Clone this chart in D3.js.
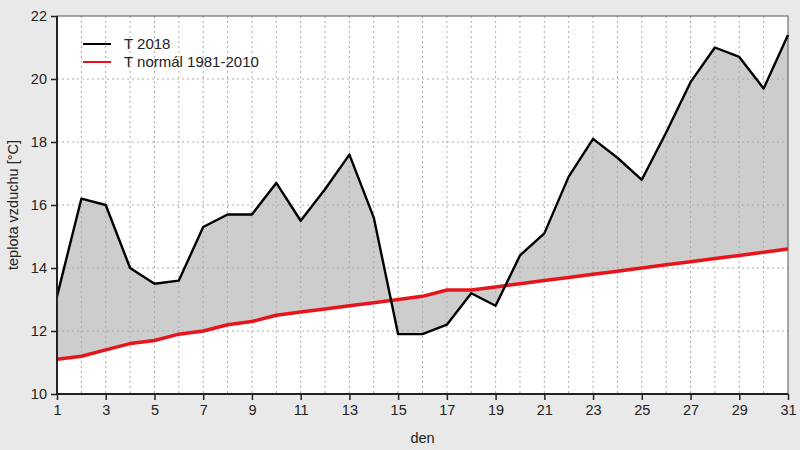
<!DOCTYPE html>
<html>
<head>
<meta charset="utf-8" />
<script src="https://d3js.org/d3.v7.min.js"></script>
<style>
  body { margin: 0; background: #e9e9e9; }
  svg { display: block; font-family: "Liberation Sans", Arial, sans-serif; }
  .grid line { stroke: #aaa; stroke-dasharray: 2,3; stroke-width: 1; }
  .axis text { font-size: 14.5px; fill: #222; }
  .axis path { display: none; }
  .axis line { stroke: #222; stroke-width: 1.5; }
</style>
</head>
<body>
<svg id="chart" width="800" height="450"></svg>
<script>
// den v mesici
var days = d3.range(1, 32);
var t2018 = [13.1, 16.2, 16.0, 14.0, 13.5, 13.6, 15.3, 15.7, 15.7, 16.7,
             15.5, 16.5, 17.6, 15.6, 11.9, 11.9, 12.2, 13.2, 12.8, 14.4,
             15.1, 16.9, 18.1, 17.5, 16.8, 18.3, 19.9, 21.0, 20.7, 19.7, 21.4];
var tNormal = [11.1, 11.2, 11.4, 11.6, 11.7, 11.9, 12.0, 12.2, 12.3, 12.5,
               12.6, 12.7, 12.8, 12.9, 13.0, 13.1, 13.3, 13.3, 13.4, 13.5,
               13.6, 13.7, 13.8, 13.9, 14.0, 14.1, 14.2, 14.3, 14.4, 14.5, 14.6];
var xTicks = d3.range(1, 32, 2);
var yTicks = [10, 12, 14, 16, 18, 20, 22];
var legendLabels = ["T 2018", "T normál 1981-2010"];

var svg = d3.select("#chart");
var margin = { left: 57, right: 12, top: 16, bottom: 56 };
var w = 800 - margin.left - margin.right,
    h = 450 - margin.top - margin.bottom;

var g = svg.append("g").attr("transform", "translate(" + margin.left + "," + margin.top + ")");

var x = d3.scaleLinear().domain([1, 31]).range([0, w]);
var y = d3.scaleLinear().domain([10, 22]).range([h, 0]);

g.append("rect").attr("width", w).attr("height", h).attr("fill", "#fff");

// vyplnena plocha mezi krivkami
var area = d3.area()
  .x(function(d, i) { return x(days[i]); })
  .y0(function(d, i) { return y(tNormal[i]); })
  .y1(function(d) { return y(d); });

g.append("path").datum(t2018)
  .attr("d", area)
  .attr("fill", "#cdcdcd");

// mrizka
g.append("g").attr("class", "grid")
  .selectAll("line").data(days.slice(1, -1)).enter().append("line")
  .attr("x1", function(d) { return x(d); }).attr("x2", function(d) { return x(d); })
  .attr("y1", 0).attr("y2", h);

g.append("g").attr("class", "grid")
  .selectAll("line").data(yTicks.slice(1, -1)).enter().append("line")
  .attr("x1", 0).attr("x2", w)
  .attr("y1", function(d) { return y(d); }).attr("y2", function(d) { return y(d); });

// ram
g.append("rect").attr("width", w).attr("height", h)
  .attr("fill", "none").attr("stroke", "#555").attr("stroke-width", 1);

var line = d3.line()
  .x(function(d, i) { return x(days[i]); })
  .y(function(d) { return y(d); });

g.append("path").datum(tNormal)
  .attr("d", line)
  .attr("fill", "none").attr("stroke", "#e8141b").attr("stroke-width", 3.5)
  .attr("stroke-linejoin", "round");

g.append("path").datum(t2018)
  .attr("d", line)
  .attr("fill", "none").attr("stroke", "#000").attr("stroke-width", 2.4)
  .attr("stroke-linejoin", "round");

// osy
g.append("g").attr("class", "axis")
  .attr("transform", "translate(0," + h + ")")
  .call(d3.axisBottom(x).tickValues(xTicks).tickSize(6).tickPadding(5).tickFormat(d3.format("d")));

g.append("g").attr("class", "axis")
  .call(d3.axisLeft(y).tickValues(yTicks).tickSize(6).tickPadding(4).tickFormat(d3.format("d")));

g.append("line").attr("x1", 0).attr("x2", 0).attr("y1", 0).attr("y2", h)
  .attr("stroke", "#222").attr("stroke-width", 2);
g.append("line").attr("x1", 0).attr("x2", w).attr("y1", h).attr("y2", h)
  .attr("stroke", "#222").attr("stroke-width", 2);

// popisky os
svg.append("text")
  .attr("x", margin.left + w / 2).attr("y", 443)
  .attr("text-anchor", "middle").attr("font-size", 14.5).attr("fill", "#222")
  .text("den");

svg.append("text")
  .attr("transform", "translate(18," + (margin.top + h / 2) + ") rotate(-90)")
  .attr("text-anchor", "middle").attr("font-size", 14.5).attr("fill", "#222")
  .text("teplota vzduchu [°C]");

// legenda
var legendColors = ["#000", "#e8141b"];
var legend = svg.append("g").attr("transform", "translate(83,44)");
legendLabels.forEach(function(lbl, i) {
  legend.append("line")
    .attr("x1", 0).attr("x2", 28).attr("y1", i * 18).attr("y2", i * 18)
    .attr("stroke", legendColors[i]).attr("stroke-width", 2);
  legend.append("text")
    .attr("x", 41).attr("y", i * 18 + 5)
    .attr("font-size", 15).attr("fill", "#222")
    .text(lbl);
});
</script>
</body>
</html>
